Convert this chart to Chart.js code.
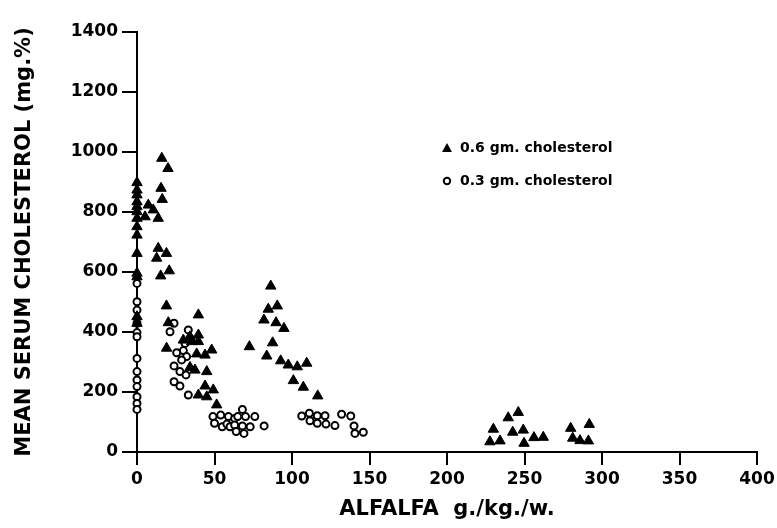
<!DOCTYPE html>
<html>
<head>
<meta charset="utf-8">
<script src="https://cdn.jsdelivr.net/npm/chart.js@4.4.0/dist/chart.umd.min.js"></script>
<style>
  html, body { margin: 0; padding: 0; background: #fff; }
</style>
</head>
<body>
<canvas id="chart" width="777" height="528"></canvas>
<script>
// Series labels
const seriesLabels = ['0.6 gm. cholesterol', '0.3 gm. cholesterol'];

// 0.6 gm. cholesterol (filled triangles)
const highX = [0, 0, 0, 0, 0, 0, 0, 0, 0, 0, 0, 0, 0, 0,
  16, 20, 15.5, 16.3, 7.3, 10.5, 5.2, 13.7, 13.7, 19, 12.7, 20.8, 15.3, 19, 39.6, 20.2,
  29.9, 34.2, 39.6, 35.3, 39.6, 19.1, 38.5, 43.9, 48.2, 34.2, 37.4, 45, 43.9, 49.2, 39.6, 45, 51.4,
  86.3, 84.7, 90.5, 81.9, 89.7, 94.8, 72.5, 87.5, 83.7, 92.7, 97.6, 103.4, 109.5, 100.9, 107.3, 116.6,
  229.9, 227.7, 234.2, 239.5, 246, 242.4, 249.2, 249.7, 256.1, 262.1, 279.8, 291.8, 281.1, 285.8, 291.2];
const highY = [898, 873, 857, 834, 818, 801, 779, 751, 723, 662, 596, 584, 451, 429,
  979, 945, 879, 842, 823, 807, 784, 779, 679, 662, 646, 604, 587, 487, 457, 431,
  373, 384, 390, 368, 368, 346, 327, 323, 340, 282, 273, 268, 220, 207, 190, 184, 157,
  553, 476, 487, 440, 431, 412, 351, 364, 320, 304, 290, 284, 296, 238, 216, 187,
  76, 34, 37, 114, 132, 66, 73, 29, 48, 49, 79, 92, 46, 38, 37];

// 0.3 gm. cholesterol (open circles)
const lowX = [0, 0, 0, 0, 0, 0, 0, 0, 0, 0, 0, 0, 0,
  23.9, 21.3, 33.1, 34.2, 31, 25.6, 29.9, 32, 28.8, 23.9, 27.7, 31.6, 23.9, 27.7, 33.1,
  49, 50, 54, 55, 59, 58, 60, 63, 65, 63, 64, 68, 68, 70, 69, 73, 76, 82,
  106.3, 111.2, 116.3, 121.3, 111.6, 116.3, 121.9, 127.7, 132, 137.9, 140, 140.6, 146];
const lowY = [562, 501, 473, 429, 398, 384, 312, 268, 240, 218, 184, 162, 142,
  429, 401, 407, 379, 362, 331, 338, 318, 307, 287, 268, 257, 234, 220, 190,
  118, 96, 123, 84, 118, 93, 84, 112, 118, 90, 68, 142, 87, 118, 62, 84, 118, 87,
  120, 129, 121, 121, 104, 96, 93, 88, 126, 120, 87, 62, 66];

// Axis ranges
const xRange = [0, 400, 50];
const yRange = [0, 1400, 200];

const toPoints = (xs, ys) => xs.map((x, i) => ({ x: x, y: ys[i] }));

const FONT = '"DejaVu Sans", sans-serif';

// Legend drawn inside the plot, like the original figure
const insideLegend = {
  id: 'insideLegend',
  afterDraw(chart) {
    const ctx = chart.ctx;
    const rows = [148, 181];
    ctx.save();
    ctx.font = 'bold 14px ' + FONT;
    ctx.textBaseline = 'middle';
    ctx.fillStyle = '#000';
    ctx.strokeStyle = '#000';
    chart.data.datasets.forEach((ds, i) => {
      const y = rows[i];
      const mx = 447;
      ctx.beginPath();
      if (ds.pointStyle === 'triangle') {
        ctx.moveTo(mx, y - 5);
        ctx.lineTo(mx + 5, y + 4);
        ctx.lineTo(mx - 5, y + 4);
        ctx.closePath();
        ctx.fill();
      } else {
        ctx.lineWidth = 2;
        ctx.arc(mx, y, 3.2, 0, Math.PI * 2);
        ctx.stroke();
      }
      ctx.fillText(ds.label, 460, y);
    });
    ctx.restore();
  }
};

new Chart(document.getElementById('chart'), {
  type: 'scatter',
  data: {
    datasets: [
      {
        label: seriesLabels[0],
        data: toPoints(highX, highY),
        pointStyle: 'triangle',
        pointRadius: 6,
        backgroundColor: '#000',
        borderColor: '#000',
        borderWidth: 1,
        clip: false
      },
      {
        label: seriesLabels[1],
        data: toPoints(lowX, lowY),
        pointStyle: 'circle',
        pointRadius: 3.5,
        backgroundColor: '#fff',
        borderColor: '#000',
        borderWidth: 2,
        clip: false
      }
    ]
  },
  options: {
    responsive: false,
    animation: false,
    layout: { padding: { left: 0, right: 20, top: 32, bottom: 0 } },
    plugins: {
      legend: { display: false },
      tooltip: { enabled: false }
    },
    scales: {
      x: {
        type: 'linear',
        min: xRange[0],
        max: xRange[1],
        ticks: {
          stepSize: xRange[2],
          color: '#000',
          padding: 4,
          maxRotation: 0,
          callback: v => String(v),
          font: { family: FONT, size: 17, weight: 'bold' }
        },
        grid: { drawOnChartArea: false, color: '#000', lineWidth: 2, tickLength: 13 },
        border: { color: '#000', width: 2 },
        title: {
          display: true,
          text: 'ALFALFA  g./kg./w.',
          color: '#000',
          padding: { top: 0, bottom: 6 },
          font: { family: FONT, size: 21, weight: 'bold' }
        },
        afterFit(scale) {
          scale.height = 76;
          scale.paddingLeft = 0;
          scale.paddingRight = 0;
        }
      },
      y: {
        type: 'linear',
        min: yRange[0],
        max: yRange[1],
        ticks: {
          stepSize: yRange[2],
          color: '#000',
          padding: 4,
          callback: v => String(v),
          font: { family: FONT, size: 17, weight: 'bold' }
        },
        grid: { drawOnChartArea: false, color: '#000', lineWidth: 2, tickLength: 15 },
        border: { color: '#000', width: 2 },
        title: {
          display: true,
          text: 'MEAN SERUM CHOLESTEROL (mg.%)',
          color: '#000',
          padding: { top: 12, bottom: 0 },
          font: { family: FONT, size: 21, weight: 'bold' }
        },
        afterFit(scale) {
          scale.width = 137;
          scale.paddingTop = 0;
          scale.paddingBottom = 0;
        }
      }
    }
  },
  plugins: [insideLegend]
});
</script>
</body>
</html>
